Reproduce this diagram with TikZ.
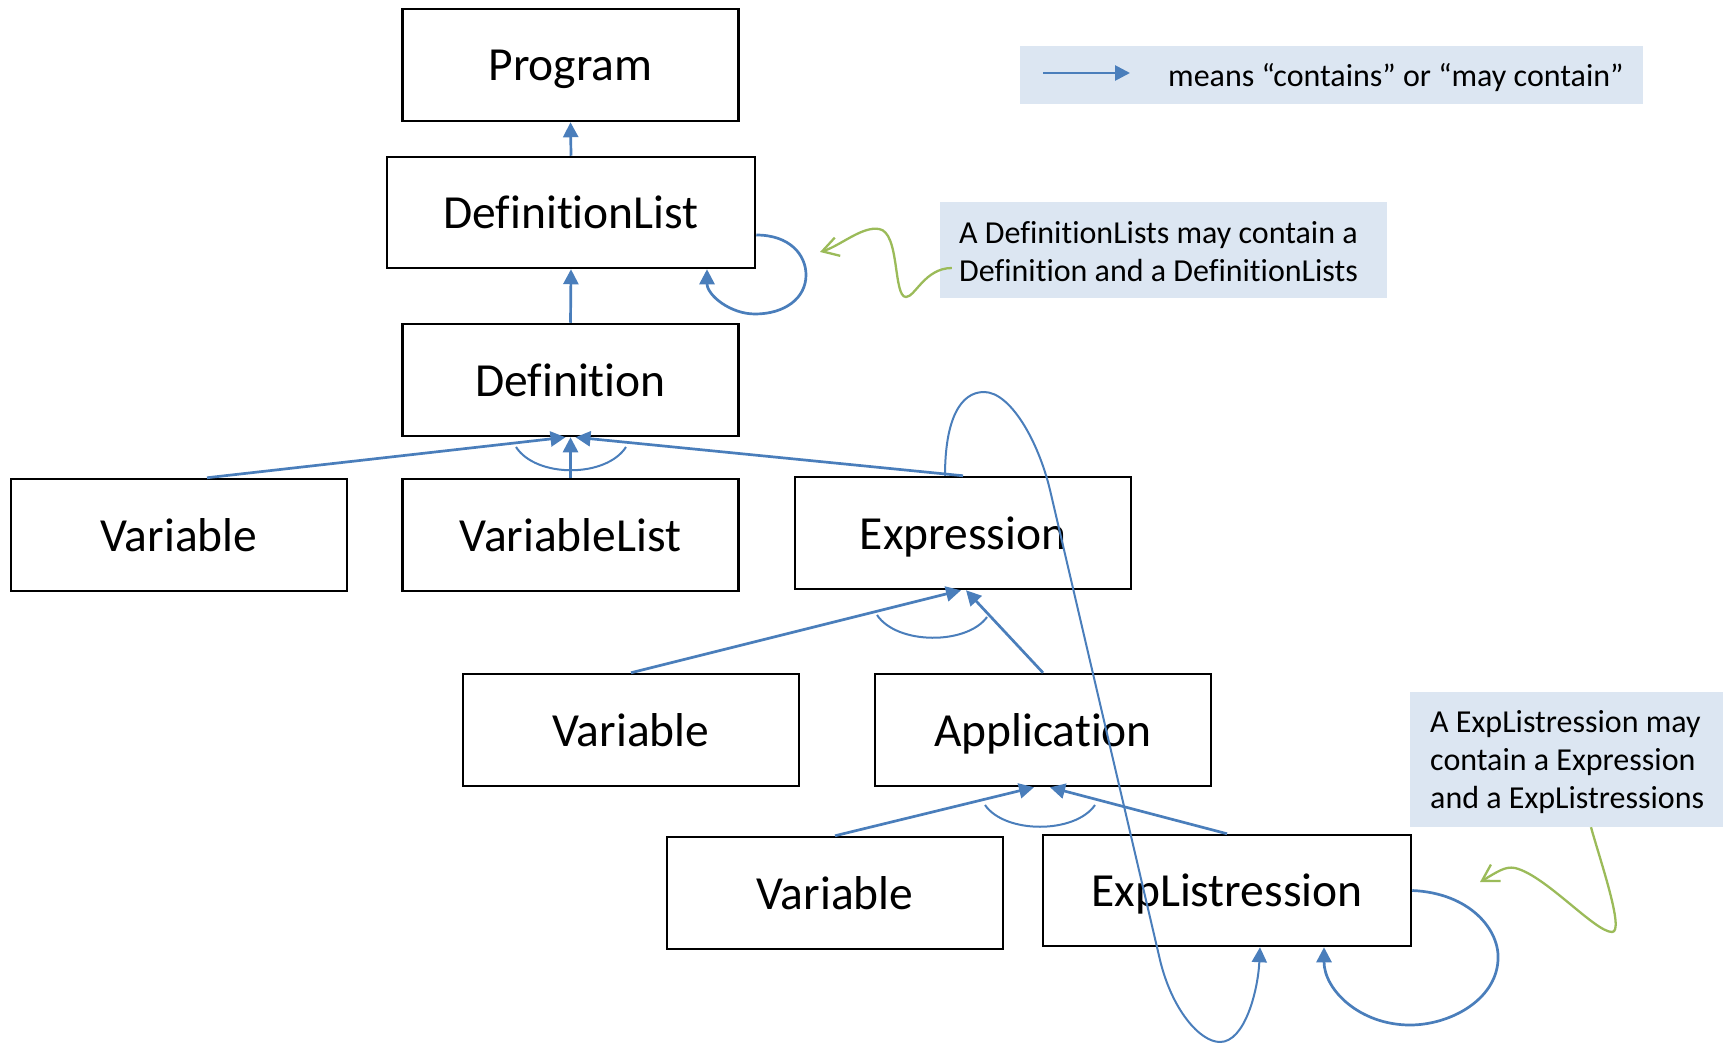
\documentclass[tikz,border=0pt]{standalone}
\usepackage{fontspec}
\setmainfont{Carlito}[Ligatures=NoCommon]
\usetikzlibrary{arrows.meta}
\definecolor{lblue}{HTML}{4A7EBB}
\definecolor{lgreen}{HTML}{9BBB59}
\definecolor{notefill}{HTML}{DCE6F2}
\begin{document}
\begin{tikzpicture}[x=1pt,y=-1pt,
  box/.style={draw=black, line width=2.5pt, minimum width=336pt, minimum height=112pt, inner sep=0pt, text height=32pt, text depth=0pt, font=\fontsize{47.5}{56}\selectfont},
  conn/.style={draw=lblue, line width=2.7pt, -{Triangle[length=15pt,width=15pt]}},
  thinarc/.style={draw=lblue, line width=2pt},
  notebox/.style={fill=notefill, draw=none, inner sep=0pt},
  notetext/.style={inner sep=0pt, align=left, anchor=west, font=\fontsize{32}{38}\selectfont},
  callout/.style={draw=lgreen, line width=2.3pt, -{Straight Barb[length=16pt,width=19pt]}}
]
\useasboundingbox (0,0) rectangle (1723,1043);
% boxes
\node[box] (prog) at (570.5,65) {Program};
\node[box, minimum width=368pt, minimum height=111pt] (dl) at (571,212.5) {DefinitionList};
\node[box] (def) at (570.5,380) {Definition};
\node[box] (v1) at (179,535) {Variable};
\node[box] (vl) at (570.5,535) {VariableList};
\node[box] (ex) at (963,533) {Expression};
\node[box] (v2) at (631,730) {Variable};
\node[box] (app) at (1043,730) {Application};
\node[box] (v3) at (835,893) {Variable};
\node[box, minimum width=368pt, minimum height=111pt] (el) at (1227,890.5) {ExpListression};
% legend
\node[notebox, minimum width=623pt, minimum height=58pt] (leg) at (1331.5,75) {};
\coordinate (la) at (1043,73);
\coordinate (lb) at (1130,73);
\draw[conn] (la) -- (lb);
\node[anchor=base west, font=\fontsize{32}{38}\selectfont, inner sep=0pt] (legt) at (1168,87) {means “contains” or “may contain”};
% notes
\node[notebox, minimum width=447pt, minimum height=96pt] (n1) at (1163.5,250) {};
\node[notetext] (n1t) at (959,252) {A DefinitionLists may contain a\\Definition and a DefinitionLists};
\node[notebox, minimum width=340pt, minimum height=135pt] (n2) at (1580,759.5) {};
\node[notetext] (n2t) at (1430,762) {A ExpListression may\\contain a Expression\\and a ExpListressions};
% connectors
\draw[conn] (dl.north) -- (prog.south);
\draw[conn] (def.north) -- (dl.south);
\draw[conn] ([yshift=-22.5pt]dl.east) .. controls (790,235) and (806,255) .. (806,275) .. controls (806,298) and (785,314) .. (755,314) .. controls (730,314) and (707,295) .. ([xshift=136pt]dl.south);
\draw[conn] ([xshift=28pt]v1.north) -- ([xshift=-5pt]def.south);
\draw[conn] (vl.north) -- (def.south);
\draw[conn] (ex.north) -- ([xshift=5pt]def.south);
\draw[thinarc] (516,447) .. controls (536,478) and (606,478) .. (626,447);
\draw[conn] (v2.north) -- ([xshift=-2pt]ex.south);
\draw[conn] (app.north) -- ([xshift=3pt]ex.south);
\draw[thinarc] (877,615) .. controls (897,645) and (967,645) .. (987,617);
\draw[conn] (v3.north) -- ([xshift=-9pt]app.south);
\draw[conn] (el.north) -- ([xshift=7pt]app.south);
\draw[thinarc] (985,805) .. controls (1005,834) and (1075,834) .. (1095,805);
\draw[thinarc, -{Triangle[length=15pt,width=15pt]}] ([xshift=-18pt]ex.north) .. controls (945,420) and (960,392) .. (984,392) .. controls (1010,392) and (1038,440) .. (1050,490) -- (1160,960) .. controls (1172,1010) and (1200,1042) .. (1220,1042) .. controls (1245,1042) and (1258,990) .. ([xshift=33pt]el.south);
\draw[conn] (el.east) .. controls (1470,893) and (1500,930) .. (1498,960) .. controls (1496,1000) and (1450,1025) .. (1410,1025) .. controls (1360,1025) and (1324,990) .. ([xshift=97pt]el.south);
% callouts
\draw[callout] ([xshift=12pt,yshift=-18pt]n1.west) .. controls (925,268) and (915,297) .. (906,297) .. controls (893,297) and (900,232) .. (879,229) .. controls (862,226) and (840,246) .. (820,252);
\draw[callout] ([xshift=11pt]n2.south) .. controls (1600,860) and (1625,932) .. (1612,932) .. controls (1595,932) and (1545,875) .. (1515,868) .. controls (1505,866) and (1497,872) .. (1480,882);
\end{tikzpicture}
\end{document}
